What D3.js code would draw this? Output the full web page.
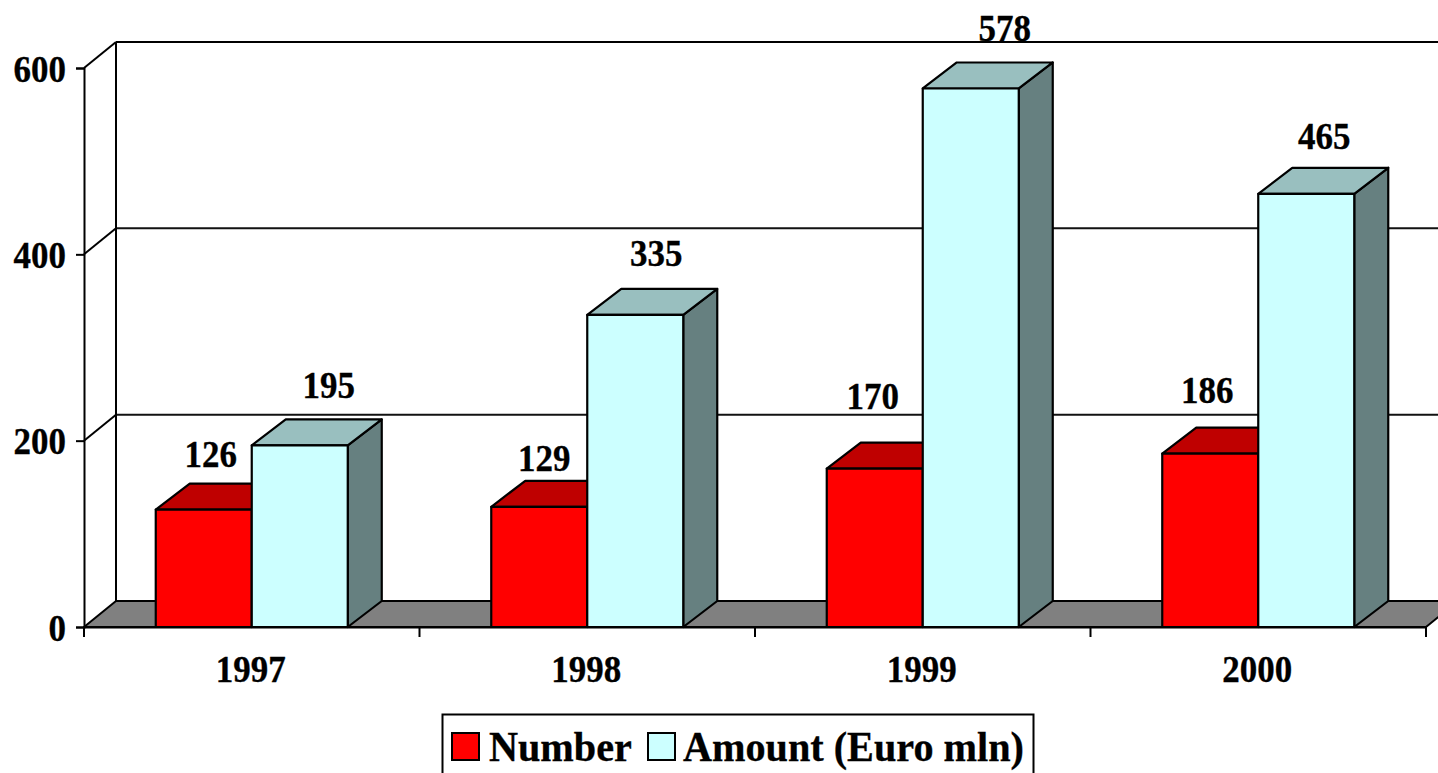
<!DOCTYPE html>
<html><head><meta charset="utf-8">
<script src="https://cdn.jsdelivr.net/npm/d3@7"></script>
<style>html,body{margin:0;padding:0;background:#fff;overflow:hidden}svg{display:block}
text{font-family:"Liberation Serif","Times New Roman",serif;font-weight:bold;fill:#000;stroke:#000;stroke-width:.35px}</style>
</head><body><svg id="c" width="1438" height="773"></svg>
<script>
const years = ["1997","1998","1999","2000"];
const seriesNames = ["Number","Amount (Euro mln)"];
const numberValues = [126,129,170,186];
const amountValues = [195,335,578,465];
const yTicks = [0,200,400,600];

// layout
const FS = 38, SX = 0.92;
const wall = {x:32, y:-26};
const depth = {x:34, y:-26};
const numberNudge = [[7,-43],[5,-36],[-2,-60],[-3,-51]];
const amountNudge = [[29,-47],[21,-49],[34,-47],[18,-45]];

const svg = d3.select("#c");
const x = d3.scaleBand().domain(years).range([84,1426]).padding(0);
const y = d3.scaleLinear().domain([0,600]).range([627,68]);
const barW = 96;
const W = 1438;
const clipG = svg.append("g");
const poly = pts => pts.map(p=>p.join(",")).join(" ");

// back wall gridlines and diagonals
yTicks.slice(1).forEach(t=>{
  const top = t===600;
  clipG.append("line").attr("x1",84).attr("y1",y(t)).attr("x2",84+wall.x).attr("y2",y(t)+wall.y)
    .attr("stroke","#000").attr("stroke-width",2);
  clipG.append("line").attr("x1",84+wall.x).attr("y1",y(t)+wall.y).attr("x2",W).attr("y2",y(t)+wall.y)
    .attr("stroke",top?"#000":"#111").attr("stroke-width",2);
});
clipG.append("line").attr("x1",84+wall.x).attr("x2",84+wall.x).attr("y1",y(600)+wall.y).attr("y2",y(0)+wall.y)
  .attr("stroke","#000").attr("stroke-width",2);

// floor
clipG.append("polygon")
  .attr("points",poly([[84,y(0)],[84+wall.x,y(0)+wall.y],[1426+wall.x,y(0)+wall.y],[1426,y(0)]]))
  .attr("fill","#808080").attr("stroke","#000").attr("stroke-width",2).attr("stroke-linejoin","round");

// axes
const yAxis = d3.axisLeft(y).tickValues(yTicks).tickSize(8).tickPadding(0);
const yG = svg.append("g").attr("transform","translate(84,0)").call(yAxis);
yG.select(".domain").attr("stroke","#000").attr("stroke-width",2);
yG.selectAll(".tick line").attr("stroke","#000").attr("stroke-width",2);
yG.selectAll(".tick text").attr("x",0).attr("dy",null).attr("y",0)
  .attr("text-anchor","end").attr("dominant-baseline","central")
  .attr("font-size",FS).attr("transform",`translate(-18,0) scale(${SX},1)`);

const xAxis = d3.axisBottom(x).tickSize(0).tickPadding(0);
const xG = svg.append("g").attr("transform",`translate(0,${y(0)})`).call(xAxis);
xG.select(".domain").attr("stroke","#000").attr("stroke-width",2);
xG.selectAll(".tick text").attr("y",0).attr("dy",null).attr("dominant-baseline","auto")
  .attr("font-size",FS).attr("transform",`translate(-1,55) scale(${SX},1)`);
years.concat(["end"]).forEach((yr,i)=>{
  const px = yr==="end" ? x.range()[1] : x(yr);
  xG.append("line").attr("x1",px).attr("x2",px).attr("y1",0).attr("y2",10)
    .attr("stroke","#000").attr("stroke-width",2);
});

// 3-D bars
function bar3d(px, val, c){
  const top = y(val), b = y(0), g = svg.append("g").attr("stroke","#000").attr("stroke-width",2.2).attr("stroke-linejoin","round");
  g.append("polygon").attr("fill",c.side)
    .attr("points",poly([[px+barW,top],[px+barW+depth.x,top+depth.y],[px+barW+depth.x,b+depth.y],[px+barW,b]]));
  g.append("polygon").attr("fill",c.top)
    .attr("points",poly([[px,top],[px+depth.x,top+depth.y],[px+barW+depth.x,top+depth.y],[px+barW,top]]));
  g.append("rect").attr("x",px).attr("y",top).attr("width",barW).attr("height",b-top).attr("fill",c.front);
}
const numberC = {front:"#ff0000",top:"#bf0000",side:"#800000"};
const amountC = {front:"#ccffff",top:"#99bfbf",side:"#668080"};
years.forEach((yr,i)=>{
  const c = x(yr)+x.bandwidth()/2;
  bar3d(c-barW, numberValues[i], numberC);
  bar3d(c, amountValues[i], amountC);
});

// labels
function label(cx, by, s){
  svg.append("text").attr("text-anchor","middle").attr("font-size",FS)
    .attr("transform",`translate(${cx},${by}) scale(${SX},1)`).text(s);
}
years.forEach((yr,i)=>{
  const c = x(yr)+x.bandwidth()/2;
  label(c-barW/2+numberNudge[i][0], y(numberValues[i])+numberNudge[i][1], numberValues[i]);
  label(c+barW/2+amountNudge[i][0], y(amountValues[i])+amountNudge[i][1], amountValues[i]);
});

// legend
svg.append("rect").attr("x",442.5).attr("y",714.5).attr("width",591).attr("height",80)
  .attr("fill","#fff").attr("stroke","#000").attr("stroke-width",2);
const LFS = 43, LSX = 0.935;
[[452,489,numberC.front],[648,683,amountC.front]].forEach((l,i)=>{
  svg.append("rect").attr("x",l[0]).attr("y",733).attr("width",27).attr("height",27)
    .attr("fill",l[2]).attr("stroke","#000").attr("stroke-width",2);
  svg.append("text").attr("font-size",LFS)
    .attr("transform",`translate(${l[1]},761) scale(${LSX},1)`).text(seriesNames[i]);
});
</script></body></html>
